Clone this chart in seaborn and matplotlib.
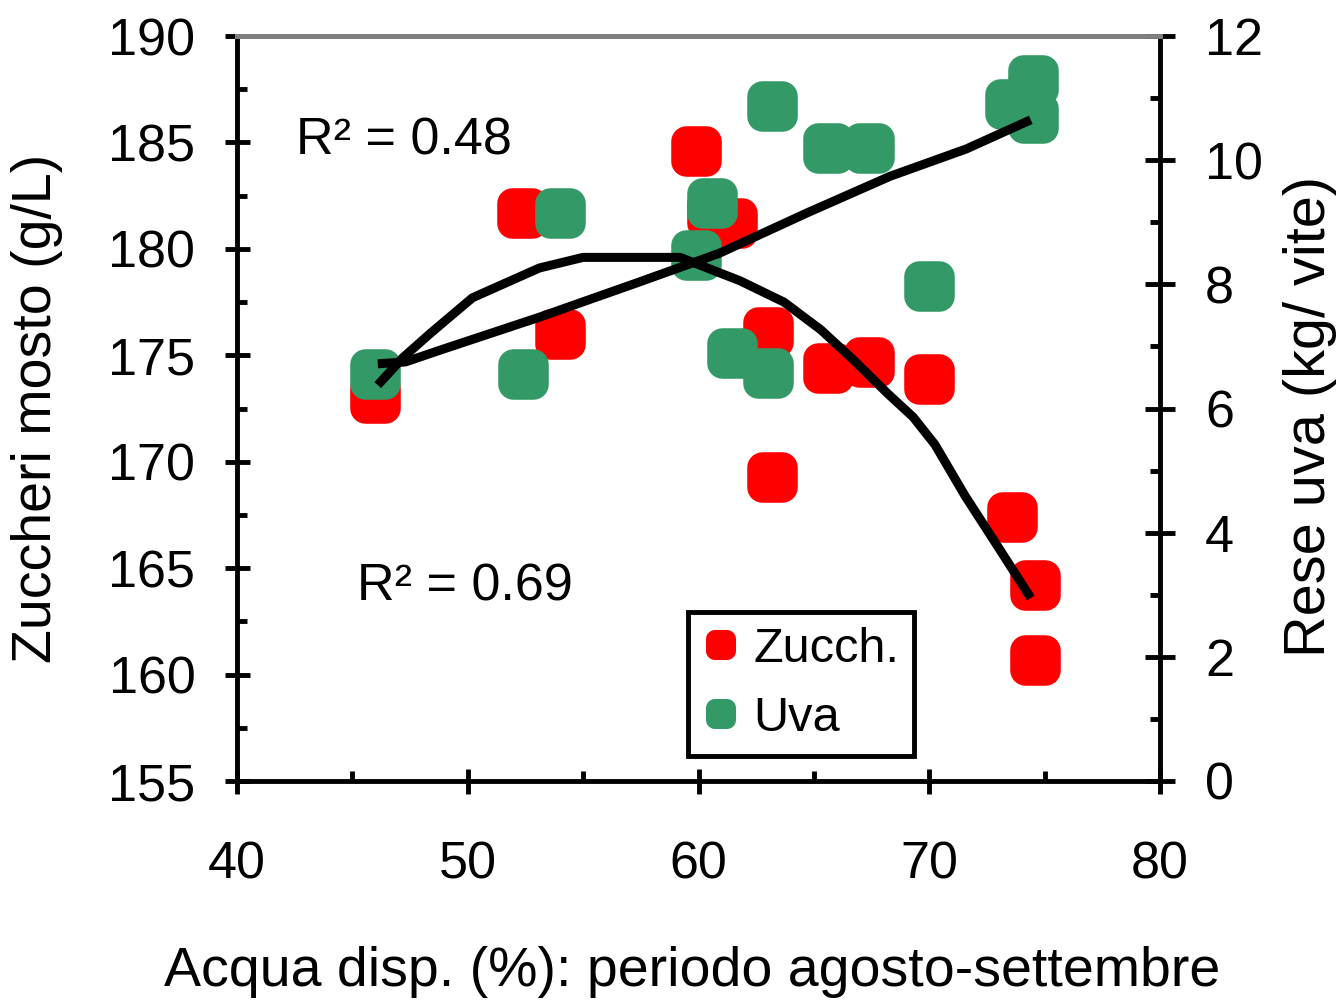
import matplotlib
matplotlib.use("Agg")
import matplotlib.pyplot as plt
from matplotlib.markers import MarkerStyle
from matplotlib.lines import Line2D
from matplotlib.ticker import MultipleLocator
import pandas as pd
import seaborn as sns

# --- data -------------------------------------------------------------
# must sugars (g/L) against available water (%), Aug-Sep
zucch_acqua = [46.0, 52.35, 54.0, 59.9, 60.6, 61.45, 63.0, 63.2, 65.6, 67.4, 70.0, 73.6, 74.6, 74.6]
zucch_gl = [173.0, 181.7, 176.0, 184.6, 181.7, 181.2, 176.1, 169.3, 174.4, 174.7, 173.9, 167.4, 164.2, 160.7]

# grape yield (kg/vine) against available water (%)
uva_acqua = [46.0, 52.4, 54.0, 60.6, 59.9, 61.45, 63.0, 63.2, 65.6, 67.4, 70.0, 73.5, 74.5, 74.5]
uva_kg = [6.56, 6.56, 9.15, 9.31, 8.47, 6.89, 6.57, 10.87, 10.2, 10.2, 7.97, 10.9, 11.29, 10.68]

# trend lines
trend_zucch_x = [46.1, 47.2, 48.4, 50.2, 53.1, 55.0, 59.2, 61.8, 63.7, 65.3, 66.7, 68.2, 69.3, 70.25, 71.55, 73.07, 74.4]
trend_zucch_y = [173.6, 174.9, 176.05, 177.7, 179.1, 179.6, 179.6, 178.5, 177.5, 176.2, 174.8, 173.2, 172.1, 170.8, 168.4, 165.85, 163.6]
trend_uva_x = [46.1, 47.3, 48.8, 53.1, 57.3, 60.9, 64.7, 68.3, 71.6, 74.4]
trend_uva_y = [6.72, 6.75, 6.94, 7.47, 8.02, 8.50, 9.15, 9.74, 10.18, 10.65]

r2_uva = "R\u00b2 = 0.48"
r2_zucch = "R\u00b2 = 0.69"
series_labels = ["Zucch.", "Uva"]

RED = "#FF0000"
GREEN = "#339966"
FS = 37.5
FS_LABEL = 40
FS_LEG = 35

sns.set_style("ticks")
plt.rcParams["font.family"] = ["Liberation Sans", "DejaVu Sans"]
for key in ("text.color", "axes.labelcolor", "xtick.color", "ytick.color"):
    plt.rcParams[key] = "black"

fig = plt.figure(figsize=(13.43, 10), dpi=100)
ax = fig.add_axes([237 / 1343, 219 / 1000, 923 / 1343, 745 / 1000])
ax2 = ax.twinx()

zucch = pd.DataFrame({"acqua": zucch_acqua, "zucch": zucch_gl})
uva = pd.DataFrame({"acqua": uva_acqua, "uva": uva_kg})
tz = pd.DataFrame({"x": trend_zucch_x, "y": trend_zucch_y})
tu = pd.DataFrame({"x": trend_uva_x, "y": trend_uva_y})

rounded_sq = MarkerStyle("s", joinstyle="round")

sns.scatterplot(data=zucch, x="acqua", y="zucch", ax=ax, color=RED, marker="s",
                s=196, linewidth=22, edgecolor=RED, legend=False)
sns.scatterplot(data=uva, x="acqua", y="uva", ax=ax2, color=GREEN, marker="s",
                s=196, linewidth=22, edgecolor=GREEN, legend=False)
for coll in ax.collections + ax2.collections:
    coll.set_joinstyle("round")

sns.lineplot(data=tu, x="x", y="y", ax=ax2, color="black", linewidth=6.5,
             sort=False, estimator=None, solid_capstyle="butt", zorder=5)
sns.lineplot(data=tz, x="x", y="y", ax=ax2, color="black", linewidth=6.5,
             sort=False, estimator=None, solid_capstyle="butt", zorder=5,
             transform=ax.transData)

ax.set_xlim(40, 80)
ax.set_ylim(155, 190)
ax2.set_ylim(0, 12)

ax.xaxis.set_major_locator(MultipleLocator(10))
ax.xaxis.set_minor_locator(MultipleLocator(5))
ax.yaxis.set_major_locator(MultipleLocator(5))
ax.yaxis.set_minor_locator(MultipleLocator(2.5))
ax2.yaxis.set_major_locator(MultipleLocator(2))
ax2.yaxis.set_minor_locator(MultipleLocator(1))

LW = 3.5
ax.tick_params(axis="x", which="major", direction="inout", length=18, width=LW,
               labelsize=FS, pad=34, color="black")
ax.tick_params(axis="x", which="minor", direction="in", length=7, width=LW)
ax.tick_params(axis="y", which="major", direction="inout", length=18, width=LW,
               labelsize=FS, pad=21, left=True, right=False)
ax.tick_params(axis="y", which="minor", direction="in", length=7, width=LW,
               left=True, right=False)
ax2.tick_params(axis="y", which="major", direction="inout", length=21, width=LW,
                labelsize=FS, pad=22)
ax2.tick_params(axis="y", which="minor", direction="in", length=7, width=LW)

for a in (ax, ax2):
    for s in a.spines.values():
        s.set_linewidth(LW)
        s.set_color("black")
    a.spines["top"].set_color("#808080")
ax.spines["right"].set_visible(False)
ax2.spines["left"].set_visible(False)
ax2.spines["bottom"].set_visible(False)

ax.set_xlabel("Acqua disp. (%): periodo agosto-settembre", fontsize=FS_LABEL)
ax.set_ylabel("Zuccheri mosto (g/L)", fontsize=FS_LABEL)
ax2.set_ylabel("Rese uva (kg/ vite)", fontsize=41.5)
ax.xaxis.set_label_coords(0.4935, -0.2215)
ax.yaxis.set_label_coords(-0.1885, 0.5)
ax2.yaxis.set_label_coords(1.1333, 0.49)

ax.text(42.55, 184.41, r2_uva, fontsize=FS, ha="left", va="baseline")
ax.text(45.2, 163.46, r2_zucch, fontsize=FS, ha="left", va="baseline")

handles = [
    Line2D([], [], linestyle="", marker=rounded_sq, markersize=9, markeredgewidth=13,
           color=RED, markeredgecolor=RED),
    Line2D([], [], linestyle="", marker=rounded_sq, markersize=9, markeredgewidth=13,
           color=GREEN, markeredgecolor=GREEN),
]
leg = ax2.legend(handles, series_labels, loc="upper left",
                 bbox_to_anchor=(0.4886, 0.2268), borderaxespad=0,
                 fontsize=FS_LEG, frameon=True, fancybox=False, framealpha=1,
                 edgecolor="black", borderpad=0.3, labelspacing=0.5,
                 handlelength=0.75, handletextpad=0.3)
leg.get_frame().set_linewidth(3.5)
leg.set_zorder(10)

fig.savefig("out.png", dpi=100)
